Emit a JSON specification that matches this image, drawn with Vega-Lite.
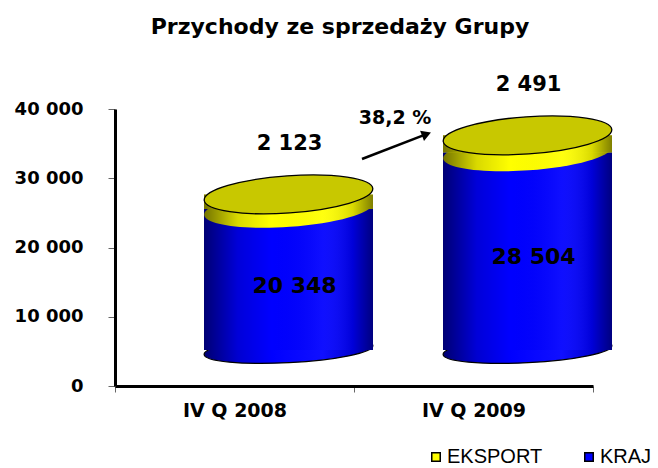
{
  "$schema": "https://vega.github.io/schema/vega-lite/v6.json",
  "width": 478,
  "height": 277,
  "autosize": {"type": "none"},
  "padding": {"left": 115, "top": 109, "right": 65, "bottom": 82},
  "background": "white",
  "title": {
    "text": "Przychody ze sprzedaży Grupy",
    "font": "DejaVu Sans",
    "fontSize": 22,
    "fontWeight": "bold",
    "color": "black",
    "frame": "group",
    "anchor": "middle",
    "baseline": "alphabetic",
    "offset": 18,
    "dx": -14
  },
  "datasets": {
    "sales": [
      {"kwartal": "IV Q 2008", "seria": "KRAJ", "wartosc": 20348},
      {"kwartal": "IV Q 2008", "seria": "EKSPORT", "wartosc": 2123},
      {"kwartal": "IV Q 2009", "seria": "KRAJ", "wartosc": 28504},
      {"kwartal": "IV Q 2009", "seria": "EKSPORT", "wartosc": 2491}
    ],
    "note": [{"tekst": "38,2 %"}]
  },
  "layer": [
    {
      "data": {"name": "sales"},
      "transform": [
        {"stack": "wartosc", "groupby": ["kwartal"], "sort": [{"field": "seria", "order": "descending"}], "as": ["v0", "v1"]}
      ],
      "layer": [
        {
          "transform": [{"filter": "datum.seria === 'KRAJ'"}],
          "mark": {
            "type": "point",
            "shape": "M -1 0 A 1 0.15 0 1 0 1 0 A 1 0.15 0 1 0 -1 0 Z",
            "size": 28561,
            "filled": true,
            "opacity": 1,
            "angle": -3,
            "fill": {"x1": 0, "y1": 0, "x2": 1, "y2": 0, "gradient": "linear", "stops": [
              {"offset": 0, "color": "#000070"}, {"offset": 0.2, "color": "#0000D0"}, {"offset": 0.4, "color": "#0000FF"},
              {"offset": 0.7, "color": "#1010FF"}, {"offset": 0.88, "color": "#0000D0"}, {"offset": 1, "color": "#000080"}]},
            "stroke": "black",
            "strokeWidth": 1.2,
            "xOffset": 54,
            "yOffset": -36
          },
          "encoding": {
            "x": {"field": "kwartal", "type": "nominal"},
            "y": {"field": "v0", "type": "quantitative"}
          }
        },
        {
          "mark": {"type": "bar", "width": 169, "xOffset": 54, "x2Offset": 54, "yOffset": -36, "y2Offset": -36},
          "encoding": {
            "x": {
              "field": "kwartal", "type": "nominal",
              "scale": {"paddingInner": 0, "paddingOuter": 0},
              "axis": {
                "title": null, "labelAngle": 0, "tickBand": "extent", "labelAlign": "center", "labelOffset": 0,
                "labelFont": "DejaVu Sans", "labelFontSize": 19, "labelFontWeight": "bold", "labelColor": "black",
                "labelPadding": 18, "tickSize": 6, "tickColor": "#666666", "domainColor": "black", "domainWidth": 3
              }
            },
            "y": {
              "field": "v1", "type": "quantitative",
              "scale": {"domain": [0, 40000], "nice": false},
              "axis": {
                "title": null, "values": [0, 10000, 20000, 30000, 40000], "format": ",d", "grid": false,
                "labelFont": "DejaVu Sans", "labelFontSize": 18, "labelFontWeight": "bold", "labelColor": "black",
                "labelPadding": 25, "tickSize": 7, "tickColor": "#666666", "domainColor": "black", "domainWidth": 3
              }
            },
            "y2": {"field": "v0"},
            "color": {
              "field": "seria", "type": "nominal",
              "scale": {"domain": ["EKSPORT", "KRAJ"], "range": ["#FFFF00", "#0000FF"]},
              "legend": {
                "title": null, "orient": "none", "direction": "horizontal", "legendX": 311, "legendY": 338,
                "symbolType": "square", "symbolSize": 72, "symbolStrokeColor": "black", "symbolStrokeWidth": 1.5,
                "labelFont": "Liberation Sans", "labelFontSize": 20, "labelColor": "black", "labelOffset": 1,
                "columnPadding": 36, "padding": 0
              }
            }
          }
        },
        {
          "transform": [{"filter": "datum.seria === 'KRAJ'"}],
          "mark": {
            "type": "point",
            "shape": "M -1 0 A 1 0.21 0 1 0 1 0 A 1 0.21 0 1 0 -1 0 Z",
            "size": 28561, "filled": true, "opacity": 1, "angle": -4,
            "fill": "#FFFF00", "strokeWidth": 0,
            "xOffset": 54, "yOffset": -36
          },
          "encoding": {
            "x": {"field": "kwartal", "type": "nominal"},
            "y": {"field": "v1", "type": "quantitative"}
          }
        },
        {
          "mark": {
            "type": "bar", "width": 169, "xOffset": 54, "x2Offset": 54, "yOffset": -36, "y2Offset": -36,
            "fill": {"x1": 0, "y1": 0, "x2": 1, "y2": 0, "gradient": "linear", "stops": [
              {"offset": 0, "color": "rgba(0,0,0,0.55)"}, {"offset": 0.2, "color": "rgba(0,0,0,0.15)"},
              {"offset": 0.4, "color": "rgba(0,0,0,0)"}, {"offset": 0.7, "color": "rgba(255,255,255,0.06)"},
              {"offset": 0.88, "color": "rgba(0,0,0,0.15)"}, {"offset": 1, "color": "rgba(0,0,0,0.5)"}]}
          },
          "encoding": {
            "x": {"field": "kwartal", "type": "nominal"},
            "y": {"field": "v1", "type": "quantitative"},
            "y2": {"field": "v0"}
          }
        },
        {
          "transform": [{"filter": "datum.seria === 'EKSPORT'"}],
          "mark": {
            "type": "point",
            "shape": "M -1 0 A 1 0.22 0 1 0 1 0 A 1 0.22 0 1 0 -1 0 Z",
            "size": 28561, "filled": true, "opacity": 1, "angle": -4,
            "fill": "#C8C800", "stroke": "black", "strokeWidth": 1.3,
            "xOffset": 54, "yOffset": -36
          },
          "encoding": {
            "x": {"field": "kwartal", "type": "nominal"},
            "y": {"field": "v1", "type": "quantitative"}
          }
        },
        {
          "transform": [{"filter": "datum.seria === 'EKSPORT'"}],
          "mark": {
            "type": "text", "font": "DejaVu Sans", "fontSize": 21, "fontWeight": "bold", "color": "black",
            "baseline": "middle", "align": "center", "xOffset": 55, "yOffset": -86
          },
          "encoding": {
            "x": {"field": "kwartal", "type": "nominal"},
            "y": {"field": "v1", "type": "quantitative"},
            "text": {"field": "wartosc", "type": "quantitative", "format": ",d"}
          }
        },
        {
          "transform": [
            {"filter": "datum.seria === 'KRAJ'"},
            {"fold": ["v0", "v1"], "as": ["krawedz", "poz"]}
          ],
          "mark": {
            "type": "text", "font": "DejaVu Sans", "fontSize": 22, "fontWeight": "bold", "color": "black",
            "baseline": "middle", "align": "center", "xOffset": 60, "yOffset": -30
          },
          "encoding": {
            "x": {"field": "kwartal", "type": "nominal"},
            "y": {"aggregate": "mean", "field": "poz", "type": "quantitative"},
            "text": {"aggregate": "max", "field": "wartosc", "type": "quantitative", "format": ",d"}
          }
        }
      ]
    },
    {
      "data": {"name": "note"},
      "layer": [
        {
          "mark": {"type": "rule", "color": "black", "strokeWidth": 2.5, "xOffset": 127.5, "x2Offset": -49},
          "encoding": {
            "x": {"datum": "IV Q 2008"},
            "x2": {"datum": "IV Q 2009"},
            "y": {"datum": 32780},
            "y2": {"datum": 36260}
          }
        },
        {
          "mark": {"type": "point", "shape": "triangle-up", "size": 120, "angle": 69, "filled": true, "opacity": 1, "color": "black", "xOffset": -47},
          "encoding": {
            "x": {"datum": "IV Q 2009"},
            "y": {"datum": 36360}
          }
        },
        {
          "mark": {"type": "text", "font": "DejaVu Sans", "fontSize": 19, "fontWeight": "bold", "color": "black", "baseline": "middle", "align": "center", "xOffset": -78.5},
          "encoding": {
            "x": {"datum": "IV Q 2009"},
            "y": {"datum": 38700},
            "text": {"field": "tekst"}
          }
        }
      ]
    }
  ],
  "config": {
    "view": {"stroke": null},
    "locale": {"number": {"decimal": ",", "thousands": " ", "grouping": [3], "currency": ["", " zł"]}}
  }
}
